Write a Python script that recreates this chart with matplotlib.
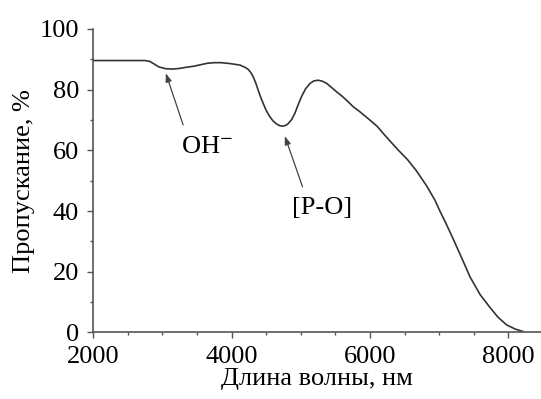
import matplotlib
matplotlib.use("Agg")
import matplotlib.pyplot as plt
from matplotlib.ticker import MultipleLocator

plt.rcParams['font.family'] = ['Liberation Serif', 'DejaVu Serif']
plt.rcParams['mathtext.fontset'] = 'stix'

wavelength = [2000, 2400, 2750, 2820, 2880, 2950, 3050, 3150, 3250, 3350, 3450,
              3550, 3650, 3750, 3850, 3978, 4123, 4200, 4240, 4280, 4312, 4350,
              4384, 4420, 4457, 4500, 4553, 4600, 4650, 4700, 4737, 4780, 4818,
              4870, 4915, 4960, 5011, 5070, 5131, 5190, 5252, 5310, 5373, 5440,
              5517, 5600, 5685, 5757, 5850, 5998, 6100, 6191, 6300, 6408, 6540,
              6673, 6818, 6938, 7010, 7100, 7202, 7324, 7443, 7590, 7731, 7850,
              7974, 8100, 8214]
transmission = [89.6, 89.6, 89.6, 89.3, 88.5, 87.5, 86.9, 86.8, 87.0, 87.4, 87.7,
                88.2, 88.7, 88.9, 88.9, 88.6, 88.1, 87.3, 86.7, 85.6, 84.3, 82.2,
                79.9, 77.6, 75.5, 73.2, 71.1, 69.7, 68.7, 68.1, 68.0, 68.2, 68.8,
                70.2, 72.2, 74.9, 77.7, 80.3, 82.0, 82.9, 83.1, 82.8, 82.1, 80.8,
                79.3, 77.8, 76.0, 74.4, 72.8, 70.0, 68.0, 65.6, 62.8, 60.1, 57.0,
                53.2, 48.3, 43.6, 40.0, 35.8, 30.8, 24.6, 18.4, 12.5, 8.3, 5.0,
                2.5, 1.1, 0.3]

x_ticks = [2000, 4000, 6000, 8000]
y_ticks = [0, 20, 40, 60, 80, 100]

fig = plt.figure(figsize=(5.41, 3.99), dpi=100)
ax = fig.add_axes([0.172, 0.1667, 0.828, 0.7607])

ax.plot(wavelength, transmission, color='#333333', lw=1.2)

ax.set_xlim(2000, 8470)
ax.set_ylim(0, 100)
ax.set_xticks(x_ticks)
ax.set_yticks(y_ticks)
ax.xaxis.set_minor_locator(MultipleLocator(500))
ax.yaxis.set_minor_locator(MultipleLocator(10))

for s in ['top', 'right']:
    ax.spines[s].set_visible(False)
for s in ['left', 'bottom']:
    ax.spines[s].set_color('#555555')
    ax.spines[s].set_linewidth(1.2)

ax.tick_params(which='major', direction='out', length=4, width=1.0, color='#555555',
               labelsize=19)
ax.tick_params(axis='y', which='major', pad=6)
ax.tick_params(axis='x', which='major', pad=5.5)
ax.tick_params(which='minor', direction='out', length=2.5, width=1.0, color='#555555')

ax.set_xlabel('Длина волны, нм', fontsize=19, labelpad=0.5)
ax.set_ylabel('Пропускание, %', fontsize=19, labelpad=3)

arrow = dict(arrowstyle='-|>,head_length=0.5,head_width=0.18', color='#444444', lw=0.9,
             shrinkA=0, shrinkB=0)
ax.annotate('', xy=(3051, 85.4), xytext=(3301, 68.4), arrowprops=arrow)
ax.annotate('', xy=(4770, 64.7), xytext=(5026, 48.0), arrowprops=arrow)
ax.text(3643, 61.1, 'OH$^{-}$', fontsize=19, ha='center', va='center')
ax.text(5305, 41.0, '[P-O]', fontsize=19, ha='center', va='center')

fig.savefig('out.png', dpi=100)
